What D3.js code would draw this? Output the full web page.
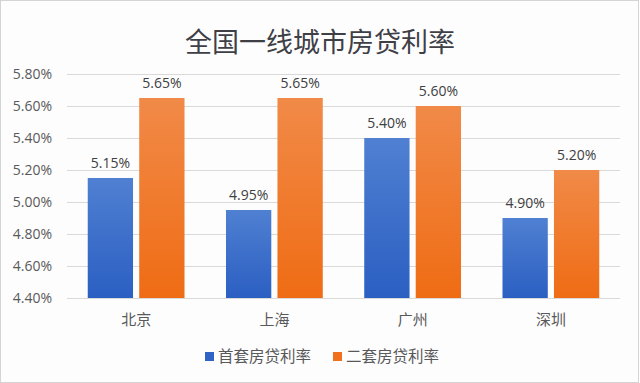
<!DOCTYPE html>
<html><head><meta charset="utf-8">
<script src="https://cdn.jsdelivr.net/npm/d3@7"></script>
<style>body{margin:0;background:#fff}svg{display:block}</style>
</head><body>
<script>
const categories = ["北京", "上海", "广州", "深圳"];
const seriesNames = ["首套房贷利率", "二套房贷利率"];
const firstHome = [5.15, 4.95, 5.40, 4.90];
const secondHome = [5.65, 5.65, 5.60, 5.20];
const yTicks = [4.40, 4.60, 4.80, 5.00, 5.20, 5.40, 5.60, 5.80];
const title = "全国一线城市房贷利率";

const W = 640, H = 383;
const font = "'Noto Sans CJK SC', 'Open Sans', sans-serif";
const numFont = "'Open Sans', 'Noto Sans', sans-serif";
const svg = d3.select("body").append("svg").attr("width", W).attr("height", H);
const defs = svg.append("defs");
function grad(id, top, bot) {
  const g = defs.append("linearGradient").attr("id", id).attr("x1", 0).attr("y1", 0).attr("x2", 0).attr("y2", 1);
  g.append("stop").attr("offset", "0%").attr("stop-color", top);
  g.append("stop").attr("offset", "100%").attr("stop-color", bot);
}
grad("gBlue", "#4f80d2", "#2b5fc2");
grad("gOrange", "#f18a48", "#ef6c14");
const fills = ["url(#gBlue)", "url(#gOrange)"];
const solid = ["#2f63c6", "#f0701c"];

svg.append("rect").attr("x", 0.5).attr("y", 0.5).attr("width", W - 2).attr("height", H - 1)
  .attr("fill", "#fdfdfe").attr("stroke", "#d4d4d4");

svg.append("text").attr("x", 320).attr("y", 52).attr("text-anchor", "middle")
  .attr("font-family", font).attr("font-size", 27).attr("fill", "#3f3f46").text(title);

const x0 = d3.scaleBand().domain(categories).range([67, 620]).paddingInner(0.3).paddingOuter(0.15);
const x1 = d3.scaleBand().domain([0, 1]).range([0, x0.bandwidth()]).paddingInner(0.12);
const y = d3.scaleLinear().domain([4.40, 5.80]).range([298, 74]);

const gy = svg.append("g").attr("transform", "translate(67,0)")
  .call(d3.axisLeft(y).tickValues(yTicks).tickSize(-553).tickFormat(d => d.toFixed(2) + "%").tickPadding(15));
gy.select(".domain").remove();
gy.selectAll(".tick line").attr("stroke", "#d9d9d9").attr("stroke-width", 1);
gy.selectAll(".tick text").attr("font-family", numFont).attr("font-size", 14).attr("fill", "#595959");

const gx = svg.append("g").attr("transform", "translate(0,298)")
  .call(d3.axisBottom(x0).tickSize(0).tickPadding(16));
gx.select(".domain").remove();
gx.selectAll(".tick text").attr("font-family", font).attr("font-size", 15).attr("fill", "#595959");

const series = [firstHome, secondHome];
series.forEach((vals, si) => {
  const g = svg.append("g");
  g.selectAll("rect").data(vals).join("rect")
    .attr("x", (d, i) => x0(categories[i]) + x1(si))
    .attr("y", d => y(d))
    .attr("width", x1.bandwidth())
    .attr("height", d => y(4.40) - y(d))
    .attr("fill", fills[si]);
  g.selectAll("text").data(vals).join("text")
    .attr("x", (d, i) => x0(categories[i]) + x1(si) + x1.bandwidth() / 2)
    .attr("y", d => y(d) - 10)
    .attr("text-anchor", "middle")
    .attr("font-family", numFont).attr("font-size", 14).attr("fill", "#404040")
    .text(d => d.toFixed(2) + "%");
});

const legendX = [205, 333];
seriesNames.forEach((name, i) => {
  svg.append("rect").attr("x", legendX[i]).attr("y", 352).attr("width", 9).attr("height", 9).attr("fill", solid[i]);
  svg.append("text").attr("x", legendX[i] + 13).attr("y", 362).attr("font-family", font)
    .attr("font-size", 15.5).attr("fill", "#595959").text(name);
});
</script>
</body></html>
